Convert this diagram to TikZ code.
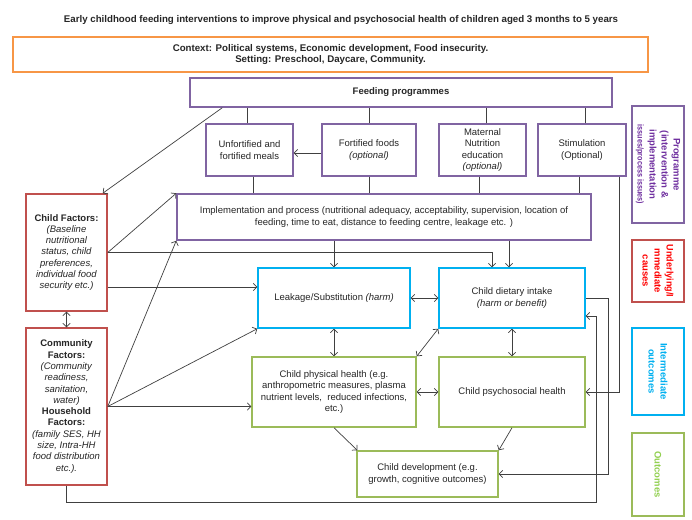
\documentclass[tikz,border=0pt]{standalone}
\usepackage{fontspec}
\setmainfont{Liberation Sans}
\usetikzlibrary{arrows.meta,calc}
\definecolor{cpurple}{HTML}{8064A2}
\definecolor{cred}{HTML}{C0504D}
\definecolor{ccyan}{HTML}{00B0F0}
\definecolor{cgreen}{HTML}{9BBB59}
\definecolor{corange}{HTML}{F79646}
\definecolor{tpurple}{HTML}{7030A0}
\definecolor{tred}{HTML}{FF0000}
\definecolor{tgreen}{HTML}{92D050}
\definecolor{txt}{HTML}{262626}
\definecolor{ln}{HTML}{404040}
\begin{document}
\begin{tikzpicture}[x=1pt,y=-1pt,
  box/.style={draw, line width=1.5pt, align=center, inner sep=1pt, text=txt, font=\fontsize{9.5}{11.3}\selectfont},
  pbox/.style={box, draw=cpurple},
  rbox/.style={box, draw=cred},
  cbox/.style={box, draw=ccyan},
  gbox/.style={box, draw=cgreen},
  ltext/.style={rotate=-90, align=center, font=\fontsize{9.5}{12}\selectfont\bfseries},
  conn/.style={draw=ln, line width=0.7pt},
  tip/.tip={Straight Barb[length=3.5pt,width=7.5pt]},
  arr/.style={conn, -tip},
  darr/.style={conn, tip-tip},
]
\useasboundingbox (0,0) rectangle (692,519);
\fill[white] (0,0) rectangle (692,519);

% title and context
\node[text=txt, font=\fontsize{9.7}{11}\selectfont\bfseries] (title) at (341,20)
  {Early childhood feeding interventions to improve physical and psychosocial health of children aged 3 months to 5 years};
\node[box, draw=corange, minimum width=635pt, minimum height=35pt, font=\fontsize{9.7}{11.5}\selectfont\bfseries] (ctx) at (330.5,54.5)
  {Context: Political systems, Economic development, Food insecurity.\\Setting: Preschool, Daycare, Community.};

% programme boxes
\node[pbox, minimum width=422pt, minimum height=29pt, font=\fontsize{9.5}{11.3}\selectfont\bfseries] (feed) at (401,92.5) {Feeding programmes};
\node[pbox, minimum width=87pt, minimum height=52pt] (unf) at (249.5,150) {Unfortified and\\fortified meals};
\node[pbox, minimum width=94pt, minimum height=52pt] (fort) at (369,150) {Fortified foods\\\textit{(optional)}};
\node[pbox, minimum width=87pt, minimum height=52pt] (mat) at (482.5,150) {Maternal\\Nutrition\\education\\\textit{(optional)}};
\node[pbox, minimum width=88pt, minimum height=52pt] (stim) at (582,150) {Stimulation\\(Optional)};
\node[pbox, minimum width=414pt, minimum height=46pt] (impl) at (384,217)
  {Implementation and process (nutritional adequacy, acceptability, supervision, location of\\feeding, time to eat, distance to feeding centre, leakage etc. )};

% factor boxes
\node[rbox, minimum width=81pt, minimum height=117pt] (child) at (66.5,252.5)
  {\textbf{Child Factors:}\\\textit{(Baseline}\\\textit{nutritional}\\\textit{status, child}\\\textit{preferences,}\\\textit{individual food}\\\textit{security etc.)}};
\node[rbox, minimum width=81pt, minimum height=157pt] (comm) at (66.5,406.5)
  {\textbf{Community}\\\textbf{Factors:}\\\textit{(Community}\\\textit{readiness,}\\\textit{sanitation,}\\\textit{water)}\\\textbf{Household}\\\textbf{Factors:}\\\textit{(family SES, HH}\\\textit{size, Intra-HH}\\\textit{food distribution}\\\textit{etc.).}};

% outcome boxes
\node[cbox, minimum width=152pt, minimum height=60pt] (leak) at (334,298) {Leakage/Substitution \textit{(harm)}};
\node[cbox, minimum width=146pt, minimum height=60pt] (diet) at (512,298) {Child dietary intake\\\textit{(harm or benefit)}};
\node[gbox, minimum width=164pt, minimum height=70pt] (phys) at (334,392)
  {Child physical health (e.g.\\anthropometric measures, plasma\\nutrient levels,\ \ reduced infections,\\etc.)};
\node[gbox, minimum width=146pt, minimum height=70pt] (psy) at (512,392) {Child psychosocial health};
\node[gbox, minimum width=141pt, minimum height=46pt] (dev) at (427.5,474) {Child development (e.g.\\growth, cognitive outcomes)};

% legend
\node[box, draw=cpurple, minimum width=52pt, minimum height=117pt] (lprog) at (658,164.5) {};
\node[ltext, text=tpurple] (lprogt) at (lprog.center)
  {Programme\\(intervention \&\\implementation\\{\fontsize{8.5}{10}\selectfont\scalebox{0.85}[1]{issues/process issues)}}};
\node[box, draw=cred, minimum width=52pt, minimum height=62pt] (lund) at (658,271) {};
\node[ltext, text=tred] (lundt) at (lund.center) {\scalebox{0.95}[1]{Underlying/I}\\mmediate\\causes};
\node[box, draw=ccyan, minimum width=52pt, minimum height=87pt] (lint) at (658,371.5) {};
\node[ltext, text=ccyan] (lintt) at (lint.center) {Intermediate\\outcomes};
\node[box, draw=cgreen, minimum width=52pt, minimum height=83pt] (lout) at (658,474.5) {};
\node[ltext, text=tgreen] (loutt) at (lout.center) {Outcomes};

% connectors: programme
\draw[conn] ([xshift=-2.5pt]unf.north) -- ([xshift=-2.5pt]unf.north |- feed.south);
\draw[conn] (fort.north) -- (fort.north |- feed.south);
\draw[conn] ([xshift=3.5pt]mat.north) -- ([xshift=3.5pt]mat.north |- feed.south);
\draw[conn] ([xshift=3pt]stim.north) -- ([xshift=3pt]stim.north |- feed.south);
\draw[conn] ([xshift=3.5pt]unf.south) -- ([xshift=3.5pt]unf.south |- impl.north);
\draw[conn] (fort.south) -- (fort.south |- impl.north);
\draw[conn] ([xshift=-3.5pt]mat.south) -- ([xshift=-3.5pt]mat.south |- impl.north);
\draw[conn] ([xshift=-3pt]stim.south) -- ([xshift=-3pt]stim.south |- impl.north);
\draw[arr] ([yshift=-3pt]fort.west) -- ([yshift=-3pt]unf.east);
\draw[arr] ([xshift=33pt]feed.south west) -- ([xshift=-5pt]child.north east);

% connectors: factors
\draw[darr] (child.south) -- (comm.north);
\draw[arr] (child.east) -- (impl.north west);
\draw[arr] (child.east) -| ([xshift=-20pt]diet.north);
\draw[arr] ([yshift=-34.5pt]child.east) -- ([yshift=-34.5pt]child.east -| leak.west);
\draw[arr] (comm.east) -- (impl.south west);
\draw[arr] (comm.east) -- (leak.south west);
\draw[arr] (comm.east) -- (comm.east -| phys.west);

% connectors: implementation and outcomes
\draw[arr] (impl.south -| leak.north) -- (leak.north);
\draw[arr] ([xshift=-3pt]diet.north |- impl.south) -- ([xshift=-3pt]diet.north);
\draw[darr] (leak.east) -- (diet.west);
\draw[darr] (leak.south) -- (phys.north);
\draw[darr] (diet.south west) -- (phys.north east);
\draw[darr] (diet.south) -- (psy.north);
\draw[darr] (phys.east) -- (psy.west);
\draw[arr] (phys.south) -- ([xshift=1pt]dev.north west);
\draw[arr] (psy.south) -- (dev.north east);

% feedback loops
\coordinate (s1) at ([xshift=-7pt]stim.south east);
\draw[arr] (s1) |- (psy.east);
\coordinate (d1) at ([xshift=23pt]diet.east);
\draw[arr] (diet.east) -- (d1) |- (dev.east);
\coordinate (c1) at ([yshift=-17pt]comm.south);
\coordinate (c2) at ([xshift=11pt, yshift=-18pt]diet.east);
\draw[arr] (comm.south) -- (c1) -| (c2) -- ([yshift=-18pt]diet.east);
\end{tikzpicture}
\end{document}
